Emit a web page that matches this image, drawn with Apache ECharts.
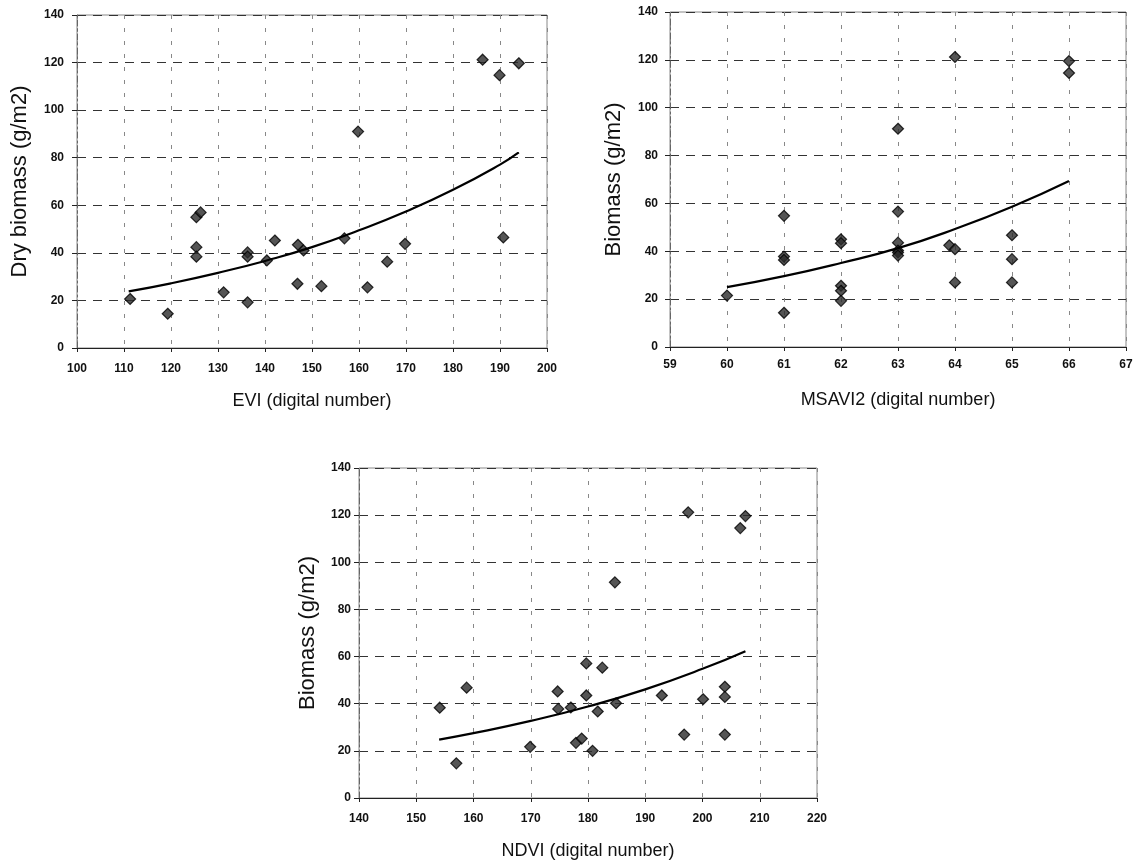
<!DOCTYPE html>
<html>
<head>
<meta charset="utf-8">
<script src="https://cdn.jsdelivr.net/npm/echarts@6/dist/echarts.min.js"></script>
<style>
  html, body { margin: 0; padding: 0; background: #ffffff; }
  #chart { width: 1141px; height: 866px; }
</style>
</head>
<body>
<div id="chart"></div>
<script>
// Field samples: dry biomass (g/m2) against three vegetation indices (digital numbers)
const eviX = [111.3, 119.3, 125.4, 126.3, 125.4, 125.4, 131.2, 136.3, 136.3, 136.3, 140.4, 142.1, 147.0,
  148.2, 146.9, 152.0, 156.9, 159.8, 161.8, 166.0, 169.8, 186.3, 189.9, 190.7, 194.0];
const eviY = [20.6, 14.4, 55.0, 57.0, 42.4, 38.4, 23.4, 40.2, 38.4, 19.2, 36.8, 45.2, 43.4,
  41.0, 27.0, 26.0, 46.1, 91.0, 25.5, 36.3, 43.8, 121.2, 114.7, 46.5, 119.7];

const msaviX = [60, 61, 61, 61, 61, 62, 62, 62, 62, 62, 63, 63, 63, 63, 63, 63,
  64, 63.9, 64, 64, 65, 65, 65, 66, 66];
const msaviY = [21.5, 54.8, 37.8, 36.4, 14.3, 45.0, 43.4, 25.6, 23.5, 19.3, 91.2, 56.6, 43.6, 40.3, 39.5, 38.2,
  121.2, 42.5, 40.9, 27.0, 46.7, 36.7, 27.0, 119.5, 114.5];

const ndviX = [154.1, 157.0, 158.8, 169.9, 174.7, 174.8, 177.0, 177.9, 178.9, 179.7, 179.7, 180.8, 181.7,
  182.5, 184.7, 184.9, 192.9, 196.8, 197.5, 200.1, 203.9, 203.9, 203.9, 206.6, 207.5];
const ndviY = [38.3, 14.7, 46.8, 21.7, 45.2, 37.8, 38.4, 23.4, 25.2, 57.1, 43.5, 20.0, 36.7,
  55.3, 91.5, 40.2, 43.5, 26.9, 121.2, 41.9, 47.2, 42.9, 26.9, 114.5, 119.6];

// Exponential trend curves, sampled along x
const eviTrendX = [111, 120, 130, 140, 150, 160, 170, 180, 190, 194];
const eviTrendY = [23.8, 27.2, 31.6, 36.6, 42.4, 49.5, 57.4, 66.5, 77.1, 82.2];
const msaviTrendX = [60, 61, 62, 63, 64, 65, 66];
const msaviTrendY = [25.0, 29.6, 35.1, 41.3, 49.3, 58.6, 69.4];
const ndviTrendX = [154, 160, 170, 180, 190, 200, 207.5];
const ndviTrendY = [24.8, 27.5, 32.7, 38.8, 46.1, 54.8, 62.3];

// Axis ranges and titles
const yRange = { min: 0, max: 140, interval: 20 };
const eviRange = { min: 100, max: 200, interval: 10 };
const msaviRange = { min: 59, max: 67, interval: 1 };
const ndviRange = { min: 140, max: 220, interval: 10 };
const xTitles = ['EVI (digital number)', 'MSAVI2 (digital number)', 'NDVI (digital number)'];
const yTitles = ['Dry biomass (g/m2)', 'Biomass (g/m2)', 'Biomass (g/m2)'];

const pairs = (xs, ys) => xs.map((x, i) => [x, ys[i]]);

const tickFont = { fontFamily: 'Liberation Sans, Arial, sans-serif', fontSize: 12, fontWeight: 'bold', color: '#111' };
const titleFont = { fontFamily: 'Liberation Sans, Arial, sans-serif', color: '#111' };

function xAxis(idx, range, name, labelMargin) {
  return {
    type: 'value', gridIndex: idx, min: range.min, max: range.max, interval: range.interval,
    name: name, nameLocation: 'middle', nameGap: 44,
    nameTextStyle: Object.assign({ fontSize: 18 }, titleFont),
    axisLine: { show: true, onZero: false, lineStyle: { color: '#222', width: 1 } },
    axisTick: { show: true, inside: false, length: 4, lineStyle: { color: '#222' } },
    axisLabel: Object.assign({ margin: labelMargin }, tickFont),
    splitLine: { show: true, lineStyle: { color: '#888', width: 1, type: [4, 9] } }
  };
}

function yAxis(idx, name, nameGap, labelMargin) {
  return {
    type: 'value', gridIndex: idx, min: yRange.min, max: yRange.max, interval: yRange.interval,
    name: name, nameLocation: 'middle', nameGap: nameGap, nameRotate: 90,
    nameTextStyle: Object.assign({ fontSize: 22 }, titleFont),
    axisLine: { show: true, onZero: false, lineStyle: { color: '#666', width: 1, type: [6, 3, 2, 3] } },
    axisTick: { show: true, length: 5, lineStyle: { color: '#222' } },
    axisLabel: Object.assign({ margin: labelMargin }, tickFont),
    splitLine: { show: true, lineStyle: { color: '#333', width: 1, type: [9, 7] } }
  };
}

function scatter(idx, data) {
  return {
    type: 'scatter', xAxisIndex: idx, yAxisIndex: idx, data: data,
    symbol: 'diamond', symbolSize: 11,
    itemStyle: { color: '#2a2a2a', borderColor: '#000', borderWidth: 1.2 },
    z: 3
  };
}

function trend(idx, data) {
  return {
    type: 'line', xAxisIndex: idx, yAxisIndex: idx, data: data,
    showSymbol: false, smooth: true, silent: true,
    lineStyle: { color: '#000', width: 2.2 },
    z: 4
  };
}

const chart = echarts.init(document.getElementById('chart'), null, { renderer: 'canvas' });
chart.setOption({
  backgroundColor: '#ffffff',
  animation: false,
  grid: [
    { left: 77, top: 15, width: 470, height: 333, show: true, borderColor: '#888', borderWidth: 1, backgroundColor: 'transparent' },
    { left: 670, top: 12, width: 456, height: 335, show: true, borderColor: '#888', borderWidth: 1, backgroundColor: 'transparent' },
    { left: 359, top: 468, width: 458, height: 330, show: true, borderColor: '#888', borderWidth: 1, backgroundColor: 'transparent' }
  ],
  xAxis: [
    xAxis(0, eviRange, xTitles[0], 15),
    xAxis(1, msaviRange, xTitles[1], 12),
    xAxis(2, ndviRange, xTitles[2], 15)
  ],
  yAxis: [
    yAxis(0, yTitles[0], 46, 13),
    yAxis(1, yTitles[1], 45, 12),
    yAxis(2, yTitles[2], 40, 8)
  ],
  series: [
    scatter(0, pairs(eviX, eviY)),
    trend(0, pairs(eviTrendX, eviTrendY)),
    scatter(1, pairs(msaviX, msaviY)),
    trend(1, pairs(msaviTrendX, msaviTrendY)),
    scatter(2, pairs(ndviX, ndviY)),
    trend(2, pairs(ndviTrendX, ndviTrendY))
  ]
});
</script>
</body>
</html>
